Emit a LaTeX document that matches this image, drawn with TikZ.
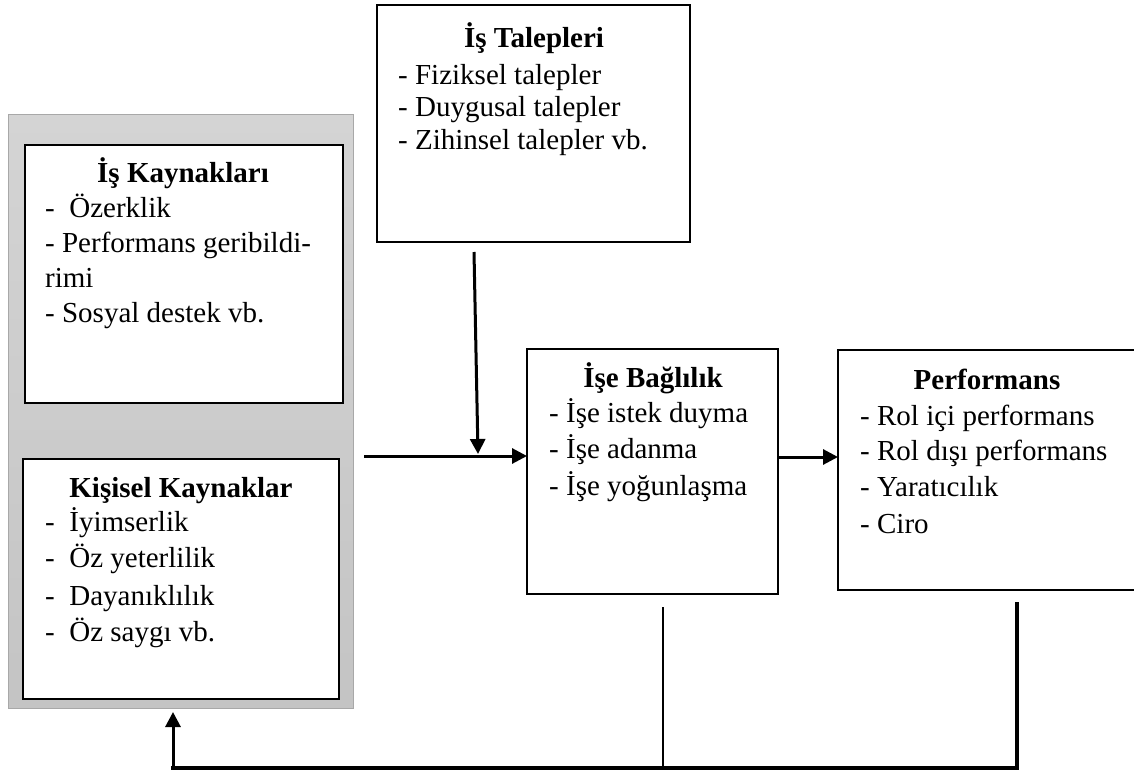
\documentclass[tikz,border=0pt]{standalone}
\usepackage{fontspec}
\setmainfont{Liberation Serif}
\usetikzlibrary{arrows.meta}
\definecolor{paneltop}{RGB}{212,212,212}
\definecolor{panelbot}{RGB}{196,196,196}
\definecolor{panelline}{RGB}{168,168,168}
\begin{document}
\begin{tikzpicture}[x=1pt,y=-1pt,
  box/.style={draw=black,line width=2.3pt,fill=white,inner sep=0pt,outer sep=0pt},
  pbox/.style={box,line width=2.8pt},
  panel/.style={draw=panelline,line width=1pt,top color=paneltop,bottom color=panelbot,inner sep=0pt,outer sep=0pt},
  ttl/.style={font=\fontsize{29}{34}\selectfont\bfseries,anchor=base,inner sep=0pt},
  itm/.style={font=\fontsize{29}{34}\selectfont,anchor=base west,inner sep=0pt},
  arr/.style={line width=3pt,-{Triangle[length=15pt,width=15pt]}}
]
\useasboundingbox (0,0) rectangle (1134,771);
\fill[white] (0,0) rectangle (1134,771);

% boxes
\node[panel,minimum width=345pt,minimum height=594pt] (panel) at (180.5,411) {};
\node[box,minimum width=313pt,minimum height=237pt] (talep) at (533.5,123.5) {};
\node[pbox,minimum width=318pt,minimum height=258pt] (kaynak) at (184,274) {};
\node[pbox,minimum width=316pt,minimum height=240pt] (kisisel) at (181,579) {};
\node[box,minimum width=251pt,minimum height=245pt] (bag) at (652.5,471.5) {};
\node[box,minimum width=299pt,minimum height=240pt] (perf) at (987.5,470) {};

% Is Talepleri
\node[ttl] (t0) at (534,47) {İş Talepleri};
\node[itm] (t1) at (398,84) {- Fiziksel talepler};
\node[itm] (t2) at (398,116) {- Duygusal talepler};
\node[itm] (t3) at (398,149) {- Zihinsel talepler vb.};

% Is Kaynaklari
\node[ttl] (k0) at (183,182) {İş Kaynakları};
\node[itm] (k1) at (45,217) {-\ \ Özerklik};
\node[itm] (k2) at (45,252) {- Performans geribildi-};
\node[itm] (k3) at (45,287) {rimi};
\node[itm] (k4) at (45,322) {- Sosyal destek vb.};

% Kisisel Kaynaklar
\node[ttl] (p0) at (181,497) {Kişisel Kaynaklar};
\node[itm] (p1) at (45,531) {-\ \ İyimserlik};
\node[itm] (p2) at (45,567) {-\ \ Öz yeterlilik};
\node[itm] (p3) at (45,605) {-\ \ Dayanıklılık};
\node[itm] (p4) at (45,641) {-\ \ Öz saygı vb.};

% Ise Baglilik
\node[ttl] (b0) at (653,387) {İşe Bağlılık};
\node[itm] (b1) at (549,422) {- İşe istek duyma};
\node[itm] (b2) at (549,458) {- İşe adanma};
\node[itm] (b3) at (549,495) {- İşe yoğunlaşma};

% Performans
\node[ttl] (f0) at (987,389) {Performans};
\node[itm] (f1) at (860,425) {- Rol içi performans};
\node[itm] (f2) at (860,460) {- Rol dışı performans};
\node[itm] (f3) at (860,496) {- Yaratıcılık};
\node[itm] (f4) at (860,533) {- Ciro};

% connectors
\coordinate (hin) at (364,456);
\draw[arr] (hin) -- (hin -| bag.west);
\coordinate (vt) at (474,252);
\coordinate (vb) at (478,454);
\draw[arr] (vt) -- (vb);
\coordinate (ba) at (778,457);
\draw[arr] (bag.east |- ba) -- (perf.west |- ba);

\coordinate (m1) at (663,607);
\coordinate (r1) at (1017,602);
\coordinate (bl) at (173,768);
\coordinate (lt) at (173,712);
\draw[line width=2.5pt] (m1) -- (m1 |- bl);
\draw[line width=3.5pt] (r1) |- ([xshift=-2pt]bl);
\draw[arr] (bl) -- (lt);
\end{tikzpicture}
\end{document}
